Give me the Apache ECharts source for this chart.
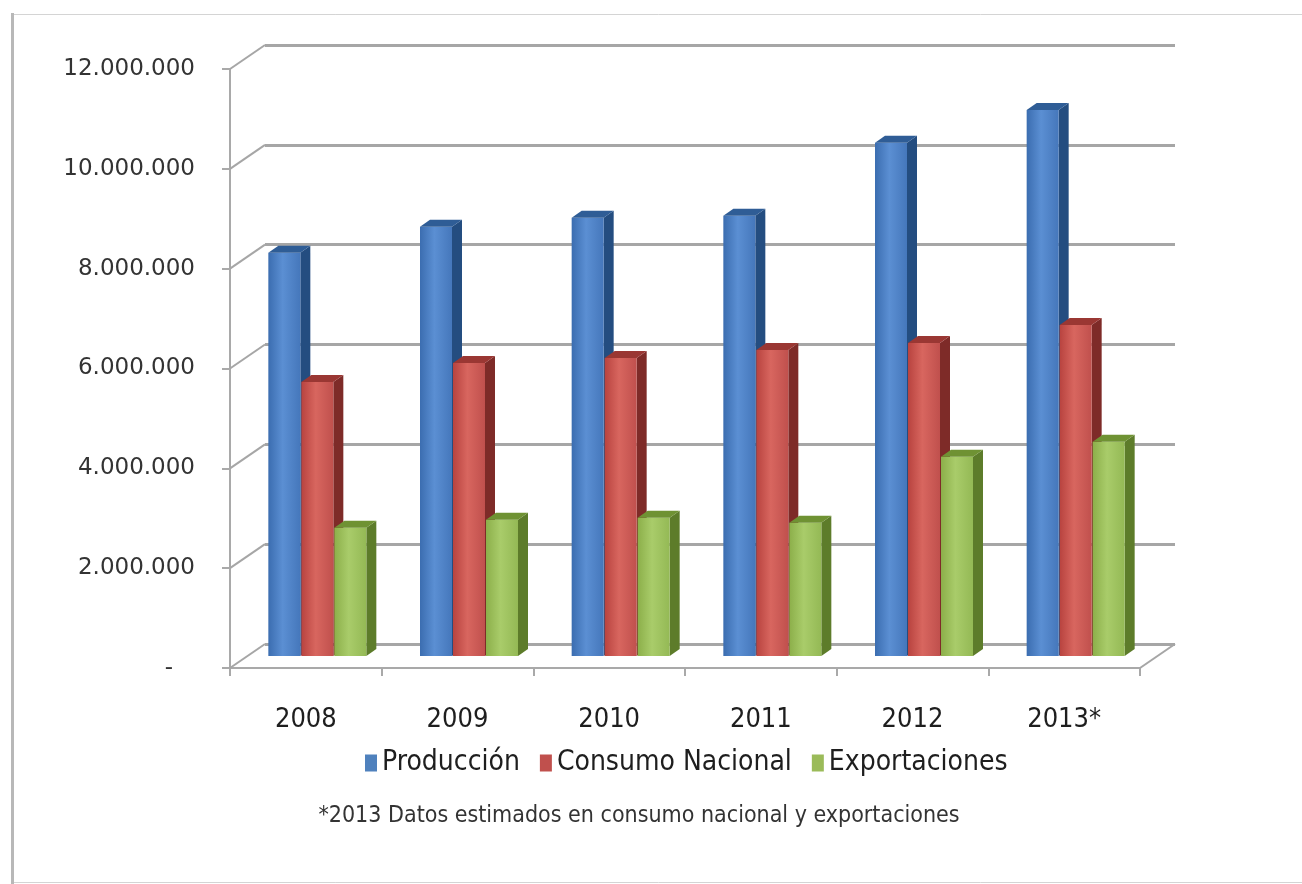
<!DOCTYPE html>
<html>
<head>
<meta charset="utf-8">
<script src="https://cdn.jsdelivr.net/npm/echarts@6/dist/echarts.min.js"></script>
<style>
  html, body { margin: 0; padding: 0; background: #fff; }
  #main { width: 1302px; height: 884px; }
</style>
</head>
<body>
<div id="main"></div>
<script>
// datos
var years = ["2008", "2009", "2010", "2011", "2012", "2013*"];
var produccion = [8080000, 8600000, 8780000, 8820000, 10280000, 10940000];
var consumoNacional = [5490000, 5870000, 5970000, 6130000, 6270000, 6630000];
var exportaciones = [2570000, 2730000, 2770000, 2670000, 3990000, 4290000];
var yTicks = [0, 2000000, 4000000, 6000000, 8000000, 10000000, 12000000];
var yTickLabels = ["-\u00a0\u00a0\u00a0", "2.000.000", "4.000.000", "6.000.000", "8.000.000", "10.000.000", "12.000.000"];
var nota = "*2013 Datos estimados en consumo nacional y exportaciones";

var narrow = "'Liberation Sans Narrow', 'DejaVu Sans Condensed', 'Open Sans', sans-serif";

var colores = [
  { front: ["#3b6db0", "#5b8fd3", "#4577bb"], side: "#244d80", top: "#2f5d96", legend: "#4f81bd" },
  { front: ["#b8433f", "#d8665f", "#c0504d"], side: "#7e2b28", top: "#9a3733", legend: "#c0504d" },
  { front: ["#8caf4a", "#a9cc6a", "#94b955"], side: "#5d7c2a", top: "#6f9233", legend: "#9bbb59" }
];

var barW = 32, step = 33, dx = 10, dy = 7;

function barRenderer(s) {
  return function (params, api) {
    var i = api.value(0), v = api.value(1);
    var base = api.coord([i, 0]);
    var top = api.coord([i, v]);
    var x0 = base[0] + (s - 1) * step - barW / 2 - 6;
    var x1 = x0 + barW;
    var c = colores[s];
    return {
      type: "group",
      children: [
        {
          type: "polygon",
          shape: { points: [[x1, top[1]], [x1 + dx, top[1] - dy], [x1 + dx, base[1] - dy], [x1, base[1]]] },
          style: { fill: c.side }
        },
        {
          type: "rect",
          shape: { x: x0, y: top[1], width: barW, height: base[1] - top[1] },
          style: {
            fill: new echarts.graphic.LinearGradient(0, 0, 1, 0, [
              { offset: 0, color: c.front[0] },
              { offset: 0.45, color: c.front[1] },
              { offset: 1, color: c.front[2] }
            ])
          }
        },
        {
          type: "polygon",
          shape: { points: [[x0, top[1]], [x0 + dx, top[1] - dy], [x1 + dx, top[1] - dy], [x1, top[1]]] },
          style: { fill: c.top }
        }
      ]
    };
  };
}

function pares(arr) {
  return arr.map(function (v, i) { return [i, v]; });
}

var gridW = 910, gridH = 599;
var depthX = 35, depthY = 24;

var option = {
  animation: false,
  backgroundColor: "#ffffff",
  grid: [
    { left: 230, top: 69, width: gridW, height: gridH },                      // frente
    { left: 230 + depthX / 2, top: 69 - depthY / 2, width: gridW, height: gridH }, // medio (barras)
    { left: 230 + depthX, top: 69 - depthY, width: gridW, height: gridH }      // pared del fondo
  ],
  xAxis: [
    {
      gridIndex: 0, type: "category", data: years,
      axisLine: { lineStyle: { color: "#a9a9a9", width: 2 } },
      axisTick: { show: true, length: 8, lineStyle: { color: "#a9a9a9", width: 2 } },
      axisLabel: { fontFamily: narrow, fontSize: 27, color: "#1e1e1e", margin: 38 }
    },
    { gridIndex: 1, type: "category", data: years, show: false },
    { gridIndex: 2, type: "category", data: years, show: false }
  ],
  yAxis: [
    {
      gridIndex: 0, type: "value", min: 0, max: 12000000, interval: 2000000,
      axisLine: { show: true, lineStyle: { color: "#a9a9a9", width: 2 } },
      axisTick: { show: true, length: 8, lineStyle: { color: "#a9a9a9", width: 2 } },
      splitLine: { show: false },
      axisLabel: {
        fontFamily: "'DejaVu Sans', sans-serif", fontSize: 23, color: "#333", margin: 35,
        formatter: function (v) {
          var k = yTicks.indexOf(v);
          return k >= 0 ? yTickLabels[k] : "";
        }
      }
    },
    { gridIndex: 1, type: "value", min: 0, max: 12000000, interval: 2000000, show: false, splitLine: { show: false } },
    {
      gridIndex: 2, type: "value", min: 0, max: 12000000, interval: 2000000,
      axisLine: { show: false }, axisTick: { show: false }, axisLabel: { show: false },
      splitLine: { show: true, lineStyle: { color: "#a6a6a6", width: 3 } }
    }
  ],
  legend: {
    left: 360, top: 744,
    itemWidth: 12, itemHeight: 17, itemGap: 20,
    icon: "rect",
    textStyle: { fontFamily: narrow, fontSize: 28, color: "#1e1e1e" },
    data: ["Producción", "Consumo Nacional", "Exportaciones"]
  },
  graphic: [
    {
      type: "rect", left: 11, top: 12, silent: true,
      shape: { width: 1300, height: 868 },
      style: { fill: "none", stroke: "#d4d4d4", lineWidth: 1 }
    },
    {
      type: "rect", left: 11, top: 13, silent: true,
      shape: { width: 3, height: 871 },
      style: { fill: "#b8b8b8" }
    },
    {
      type: "text", x: 639, y: 805, silent: true,
      style: { text: nota, fontFamily: narrow, fontSize: 23, fill: "#333", textAlign: "center" }
    }
  ],
  series: [
    {
      // líneas de la pared lateral y suelo
      type: "custom", xAxisIndex: 0, yAxisIndex: 0, silent: true,
      data: yTicks.map(function (v) { return [0, v]; }),
      renderItem: function (params, api) {
        var p = api.coord([0, api.value(1)]);
        var x = p[0] - api.size([1, 0])[0] / 2;
        var kids = [{
          type: "line",
          shape: { x1: x, y1: p[1], x2: x + depthX, y2: p[1] - depthY },
          style: { stroke: "#a6a6a6", lineWidth: 2 }
        }];
        if (api.value(1) === 0) {
          var q = api.coord([years.length - 1, 0]);
          var xr = q[0] + api.size([1, 0])[0] / 2;
          kids.push({
            type: "line",
            shape: { x1: xr, y1: q[1], x2: xr + depthX, y2: q[1] - depthY },
            style: { stroke: "#a6a6a6", lineWidth: 2 }
          });
        }
        return { type: "group", children: kids };
      },
      z: 1
    },
    {
      name: "Producción", type: "custom", xAxisIndex: 1, yAxisIndex: 1,
      itemStyle: { color: colores[0].legend },
      data: pares(produccion), renderItem: barRenderer(0), z: 3
    },
    {
      name: "Consumo Nacional", type: "custom", xAxisIndex: 1, yAxisIndex: 1,
      itemStyle: { color: colores[1].legend },
      data: pares(consumoNacional), renderItem: barRenderer(1), z: 4
    },
    {
      name: "Exportaciones", type: "custom", xAxisIndex: 1, yAxisIndex: 1,
      itemStyle: { color: colores[2].legend },
      data: pares(exportaciones), renderItem: barRenderer(2), z: 5
    }
  ]
};

var myChart = echarts.init(document.getElementById("main"));
myChart.setOption(option);
</script>
</body>
</html>
